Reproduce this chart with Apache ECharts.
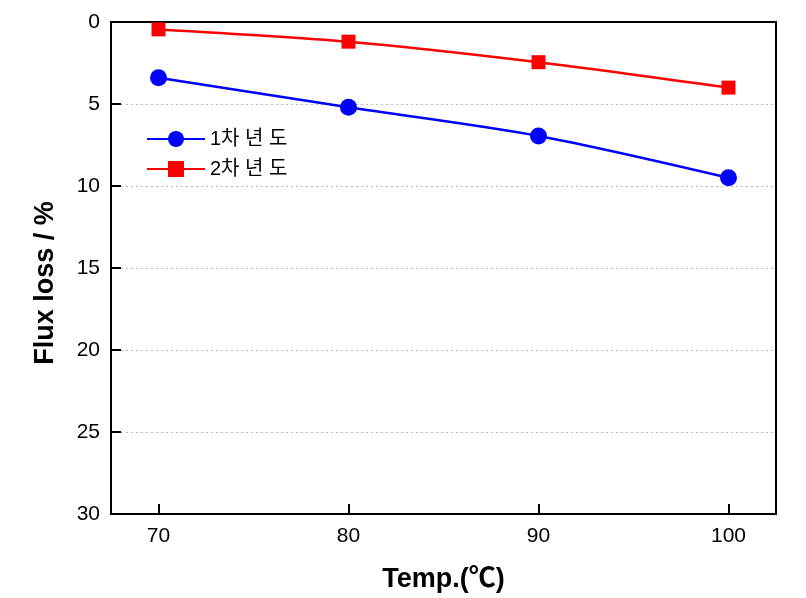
<!DOCTYPE html>
<html>
<head>
<meta charset="utf-8">
<script src="https://cdn.jsdelivr.net/npm/echarts@6/dist/echarts.min.js"></script>
<style>html,body{margin:0;padding:0;background:#fff}#c{width:806px;height:598px}</style>
</head>
<body>
<div id="c"></div>
<script>
var temps = [70, 80, 90, 100];
var year1 = [3.4, 5.2, 6.95, 9.5];
var year2 = [0.45, 1.2, 2.45, 4.0];
var xTicks = [70, 80, 90, 100];
var seriesNames = ['1차 년 도', '2차 년 도'];

var FONT = '"Liberation Sans", Arial, "Noto Sans CJK KR", sans-serif';
var chart = echarts.init(document.getElementById('c'));
chart.setOption({
  animation: false,
  backgroundColor: '#fff',
  grid: { left: 111, right: 30, top: 22, bottom: 84, show: true, borderColor: '#000', borderWidth: 2, backgroundColor: 'transparent' },
  legend: {
    left: 141, top: 124, orient: 'vertical', itemWidth: 58, itemHeight: 20, itemGap: 10,
    textStyle: { fontFamily: FONT, fontSize: 20, color: '#000' },
    data: seriesNames
  },
  xAxis: {
    type: 'value', min: 67.5, max: 102.5, position: 'bottom',
    name: 'Temp.(℃)', nameLocation: 'middle', nameGap: 52,
    nameTextStyle: { fontFamily: FONT, fontSize: 27, fontWeight: 'bold', color: '#000' },
    axisLine: { show: true, onZero: false, lineStyle: { color: '#000', width: 2 } },
    axisTick: { show: true, inside: true, length: 10, lineStyle: { color: '#000', width: 2 }, customValues: xTicks },
    axisLabel: { fontFamily: FONT, fontSize: 21, color: '#000', margin: 12, customValues: xTicks },
    splitLine: { show: false }
  },
  yAxis: {
    type: 'value', inverse: true, min: 0, max: 30, interval: 5,
    name: 'Flux loss / %', nameLocation: 'middle', nameGap: 52,
    nameTextStyle: { fontFamily: FONT, fontSize: 27, fontWeight: 'bold', color: '#000', padding: [0, 0, 0, -30] },
    axisLine: { show: true, onZero: false, lineStyle: { color: '#000', width: 2 } },
    axisTick: { show: true, inside: true, length: 10, lineStyle: { color: '#000', width: 2 } },
    axisLabel: { fontFamily: FONT, fontSize: 21, color: '#000', margin: 11 },
    splitLine: { show: true, showMinLine: false, showMaxLine: false, lineStyle: { color: '#bbb', type: [2, 3], width: 1 } }
  },
  series: [
    {
      name: seriesNames[0], type: 'line', smooth: 0.3,
      data: temps.map(function (t, i) { return [t, year1[i]]; }),
      symbol: 'circle', symbolSize: 17,
      itemStyle: { color: '#0000ff' }, lineStyle: { color: '#0000ff', width: 2.5 }
    },
    {
      name: seriesNames[1], type: 'line', smooth: 0.3,
      data: temps.map(function (t, i) { return [t, year2[i]]; }),
      symbol: 'rect', symbolSize: 14,
      itemStyle: { color: '#ff0000' }, lineStyle: { color: '#ff0000', width: 2.5 }
    }
  ]
});
</script>
</body>
</html>
